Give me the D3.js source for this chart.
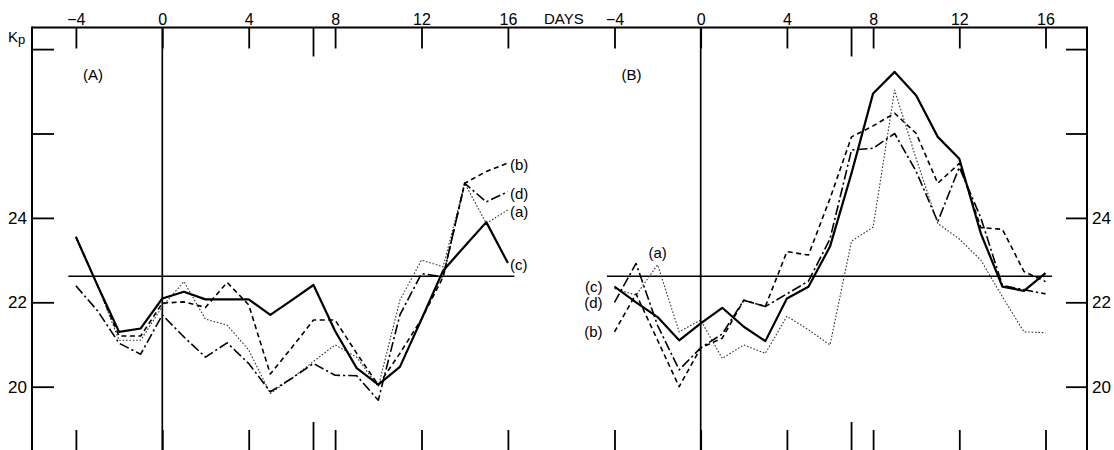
<!DOCTYPE html>
<html>
<head>
<meta charset="utf-8">
<script src="https://cdn.jsdelivr.net/npm/d3@7"></script>
<style>
  html, body { margin: 0; padding: 0; background: #fff; }
  svg { display: block; font-family: "Liberation Sans", Arial, sans-serif; }
</style>
</head>
<body>
<svg id="chart" width="1114" height="450"></svg>
<script>
// Days relative to the epoch day
const days = [-4, -3, -2, -1, 0, 1, 2, 3, 4, 5, 6, 7, 8, 9, 10, 11, 12, 13, 14, 15, 16];
const dayTicks = [-4, 0, 4, 8, 12, 16];
const kpTicks = [20, 22, 24, 26, 28];
const kpLabels = [20, 22, 24];
const kpMean = 22.62;

// Panel (A)
const leftA = [23.55, 22.4, 21.1, 21.1, 21.9, 22.49, 21.6, 21.46, 20.87, 19.84, 20.2, 20.6, 20.99, 20.7, 20.0, 22.05, 23.0, 22.84, 24.82, 23.87, 24.19];
const leftB = [23.55, 22.4, 21.2, 21.2, 21.98, 22.01, 21.88, 22.47, 21.94, 20.3, 20.93, 21.58, 21.58, 20.79, 20.04, 20.79, 21.6, 22.6, 24.82, 25.1, 25.3];
const leftC = [23.55, 22.4, 21.3, 21.38, 22.09, 22.25, 22.07, 22.07, 22.07, 21.7, 22.05, 22.41, 21.32, 20.44, 20.05, 20.47, 21.6, 22.75, 23.33, 23.9, 22.93];
const leftD = [22.39, 21.8, 21.03, 20.77, 21.7, 21.18, 20.7, 21.04, 20.55, 19.88, 20.2, 20.55, 20.27, 20.26, 19.68, 21.7, 22.68, 22.6, 24.82, 24.38, 24.62];

// Panel (B)
const rightA = [22.33, 22.17, 22.89, 21.3, 21.58, 20.67, 20.99, 20.79, 21.67, 21.35, 20.99, 23.45, 23.78, 27.03, 25.4, 23.87, 23.5, 23.0, 22.13, 21.3, 21.28];
const rightB = [21.3, 22.2, 21.1, 20.0, 20.92, 21.15, 22.05, 21.9, 23.2, 23.12, 24.46, 25.92, 26.18, 26.48, 26.0, 24.82, 25.29, 23.77, 23.73, 22.73, 22.49];
const rightC = [22.37, 22.0, 21.65, 21.1, 21.5, 21.87, 21.42, 21.08, 22.09, 22.37, 23.32, 25.06, 26.95, 27.46, 26.9, 25.92, 25.4, 23.63, 22.37, 22.27, 22.69];
const rightD = [22.0, 22.92, 21.45, 20.4, 20.92, 21.25, 22.05, 21.9, 22.2, 22.5, 23.5, 25.61, 25.65, 26.0, 25.1, 23.91, 25.2, 24.0, 22.4, 22.3, 22.2];

const svg = d3.select("#chart");
const frameLeft = 32, frameRight = 1087, axisTop = 27.5, axisBottom = 451;
const tickLen = 21, longTickLen = 29;

const y = d3.scaleLinear().domain([20, 28]).range([386.7, 49.1]);

const lineStyles = {
  a: { width: 1.1, dash: "1.6,1.8", color: "#333" },
  b: { width: 1.6, dash: "5,3.5", color: "#000" },
  c: { width: 2.2, dash: null, color: "#000" },
  d: { width: 1.6, dash: "10,3,2.2,3", color: "#000" }
};

const panels = [
  {
    title: "(A)",
    x: d3.scaleLinear().domain([-4, 16]).range([75.9, 507.9]),
    series: [
      { key: "a", values: leftA }, { key: "b", values: leftB },
      { key: "c", values: leftC }, { key: "d", values: leftD }
    ],
    labelSide: "end"
  },
  {
    title: "(B)",
    x: d3.scaleLinear().domain([-4, 16]).range([614.5, 1045.5]),
    series: [
      { key: "a", values: rightA }, { key: "b", values: rightB },
      { key: "c", values: rightC }, { key: "d", values: rightD }
    ],
    labelSide: "start"
  }
];

svg.append("rect").attr("width", 1114).attr("height", 450).attr("fill", "#fff");

// Frame: top day axis and the two Kp axes
svg.append("line")
  .attr("x1", frameLeft).attr("x2", frameRight)
  .attr("y1", axisTop).attr("y2", axisTop)
  .attr("stroke", "#000").attr("stroke-width", 2);
[frameLeft, frameRight].forEach(fx => {
  svg.append("line")
    .attr("x1", fx).attr("x2", fx)
    .attr("y1", axisTop - 1).attr("y2", axisBottom + 2)
    .attr("stroke", "#000").attr("stroke-width", 2);
});

function styleAxis(g, size) {
  g.select(".domain").remove();
  g.selectAll(".tick line").attr("stroke", "#000").attr("stroke-width", 1.8);
  g.selectAll(".tick text").attr("fill", "#000")
    .style("font-size", size + "px")
    .style("font-family", "'Liberation Sans', Arial, sans-serif");
}

// Kp axes
svg.append("g").attr("transform", `translate(${frameLeft},0)`)
  .call(d3.axisLeft(y).tickValues(kpTicks).tickSize(-22).tickPadding(5)
    .tickFormat(d => kpLabels.includes(d) ? d : ""))
  .call(g => styleAxis(g, 17));
svg.append("g").attr("transform", `translate(${frameRight},0)`)
  .call(d3.axisRight(y).tickValues(kpTicks).tickSize(-21).tickPadding(5)
    .tickFormat(d => kpLabels.includes(d) ? d : ""))
  .call(g => styleAxis(g, 17));

// Kp axis title
const kp = svg.append("text").attr("x", 8).attr("y", 42).attr("fill", "#000");
kp.append("tspan").text("K").style("font-size", "15px");
kp.append("tspan").text("p").attr("dy", 2).style("font-size", "13px");

// DAYS title between the panels
svg.append("text").attr("x", 544).attr("y", 24)
  .style("font-size", "15px").attr("fill", "#000").text("DAYS");

panels.forEach(p => {
  const x = p.x;

  // Day ticks hanging from the top axis, with labels above
  svg.append("g").attr("transform", `translate(0,${axisTop})`)
    .call(d3.axisTop(x).tickValues(dayTicks).tickSize(-tickLen).tickPadding(3)
      .tickFormat(d3.format("d")))
    .call(g => styleAxis(g, 16));

  // Ticks rising from the bottom axis
  svg.append("g").attr("transform", `translate(0,${axisBottom})`)
    .call(d3.axisBottom(x).tickValues(dayTicks).tickSize(-tickLen).tickFormat(() => ""))
    .call(g => styleAxis(g, 16));

  // Longer marker at day 7, top and bottom
  svg.append("line").attr("x1", x(7)).attr("x2", x(7))
    .attr("y1", axisTop).attr("y2", axisTop + longTickLen)
    .attr("stroke", "#000").attr("stroke-width", 1.8);
  svg.append("line").attr("x1", x(7)).attr("x2", x(7))
    .attr("y1", axisBottom).attr("y2", axisBottom - longTickLen)
    .attr("stroke", "#000").attr("stroke-width", 1.8);

  // Epoch day
  svg.append("line").attr("x1", x(0)).attr("x2", x(0))
    .attr("y1", axisTop).attr("y2", axisBottom)
    .attr("stroke", "#000").attr("stroke-width", 1.7);

  // Mean Kp level
  svg.append("line").attr("x1", x(-4.35)).attr("x2", x(16.3))
    .attr("y1", y(kpMean)).attr("y2", y(kpMean))
    .attr("stroke", "#000").attr("stroke-width", 1.5);

  // Panel title
  svg.append("text").attr("x", x(-4) + 7).attr("y", 80)
    .style("font-size", "15px").attr("fill", "#000").text(p.title);

  const line = d3.line().x((d, i) => x(days[i])).y(d => y(d));

  p.series.forEach(s => {
    const st = lineStyles[s.key];
    svg.append("path")
      .datum(s.values)
      .attr("d", line)
      .attr("fill", "none")
      .attr("stroke", st.color)
      .attr("stroke-width", st.width)
      .attr("stroke-linejoin", "round")
      .attr("stroke-dasharray", st.dash);

    let lx, ly, anchor;
    if (p.labelSide === "end") {
      const n = s.values.length - 1;
      lx = x(days[n]) + 2; ly = y(s.values[n]) + 2; anchor = "start";
    } else if (s.key === "a") {
      lx = x(-2); ly = y(s.values[2]) - 12; anchor = "middle";
    } else {
      lx = x(-4) - 12; ly = y(s.values[0]); anchor = "end";
    }
    svg.append("text")
      .attr("x", lx).attr("y", ly).attr("dy", "0.35em")
      .attr("text-anchor", anchor)
      .style("font-size", "15px").attr("fill", "#000")
      .text(`(${s.key})`);
  });
});
</script>
</body>
</html>
